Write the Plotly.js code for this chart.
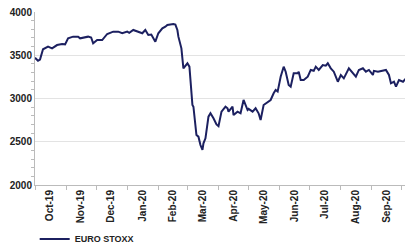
<!DOCTYPE html>
<html><head><meta charset="utf-8">
<script src="https://cdn.plot.ly/plotly-3.0.1.min.js"></script>
<style>html,body{margin:0;padding:0;background:#fff}#c{width:408px;height:245px}</style>
</head><body><div id="c"></div>
<script>
// Day offsets from 2019-10-01 and EURO STOXX values
const dayOffsets = [0,3,5,8,13,17,22,27,30,33,38,43,45,48,53,56,58,62,67,72,78,83,87,92,94,98,102,107,110,113,116,120,123,127,130,132,138,140,142,143,146,148,152,154,157,158,161,163,165,167,168,170,173,175,178,181,183,186,190,192,193,197,198,202,205,208,212,213,217,220,223,225,228,232,235,238,240,242,245,248,250,253,255,258,262,263,265,268,272,275,278,280,283,287,290,292,295,298,302,305,308,313,317,320,323,327,330,333,337,338,342,347,350,353,355,358,360,363,367,370];
const euroStoxx = [3470,3437,3450,3569,3599,3580,3618,3630,3626,3696,3715,3715,3696,3700,3715,3705,3638,3676,3676,3746,3773,3773,3754,3773,3760,3792,3773,3754,3792,3734,3740,3657,3754,3811,3830,3850,3861,3855,3792,3715,3580,3349,3407,3368,2925,2905,2578,2559,2462,2405,2482,2540,2790,2829,2771,2700,2680,2848,2905,2887,2848,2905,2809,2848,2829,2983,2867,2880,2848,2887,2829,2752,2925,2964,2983,3060,3098,3080,3252,3368,3310,3156,3137,3291,3291,3310,3214,3214,3252,3330,3320,3368,3330,3387,3380,3407,3349,3310,3194,3272,3233,3349,3291,3252,3330,3349,3310,3330,3272,3320,3310,3322,3330,3272,3175,3194,3137,3214,3194,3233];
const seriesName = 'EURO STOXX';
const startDate = '2019-10-01';
const monthLabels = ['Oct-19','Nov-19','Dec-19','Jan-20','Feb-20','Mar-20','Apr-20','May-20','Jun-20','Jul-20','Aug-20','Sep-20'];
const monthMids = ['2019-10-16','2019-11-16','2019-12-16','2020-01-16','2020-02-15','2020-03-16','2020-04-16','2020-05-16','2020-06-16','2020-07-16','2020-08-16','2020-09-16'];

const base = new Date(startDate + 'T00:00:00Z').getTime();
const dates = dayOffsets.map(d => new Date(base + d*86400000).toISOString().slice(0,10));

const tickFont = {family:'Liberation Sans, Arial, sans-serif', size:10, color:'#222', weight:700};

Plotly.newPlot('c', [{
  x: dates, y: euroStoxx, type:'scatter', mode:'lines', name: seriesName,
  line:{color:'#1c2060', width:2}
}], {
  width:408, height:245,
  margin:{l:35, r:3, t:12, b:60},
  paper_bgcolor:'#fff', plot_bgcolor:'#fff',
  showlegend:true,
  legend:{orientation:'h', xref:'container', yref:'container', x:0.085, xanchor:'left', y:0.025, yanchor:'middle',
          font:{family:'Liberation Sans, Arial, sans-serif', size:9, color:'#222', weight:700},
          itemwidth:30, bgcolor:'rgba(0,0,0,0)'},
  xaxis:{type:'date', range:['2019-10-01','2020-10-04'], automargin:false,
         tickmode:'array', tickvals:monthMids, ticktext:monthLabels, tickangle:-90,
         ticks:'', showline:true, linecolor:'#bbb',
         minor:{dtick:'M1', tick0:'2019-10-01', ticks:'outside', ticklen:4, tickcolor:'#bbb', showgrid:false},
         showgrid:false, tickfont:tickFont, zeroline:false},
  yaxis:{range:[2000,4000], dtick:500, tick0:2000, showline:true, linecolor:'#bbb', automargin:false,
         gridcolor:'#e3e3e3', ticks:'', tickfont:tickFont, zeroline:false,
         minor:{dtick:100, ticks:'outside', ticklen:3, tickcolor:'#bbb', showgrid:false}}
}, {displayModeBar:false, staticPlot:true});
</script></body></html>
